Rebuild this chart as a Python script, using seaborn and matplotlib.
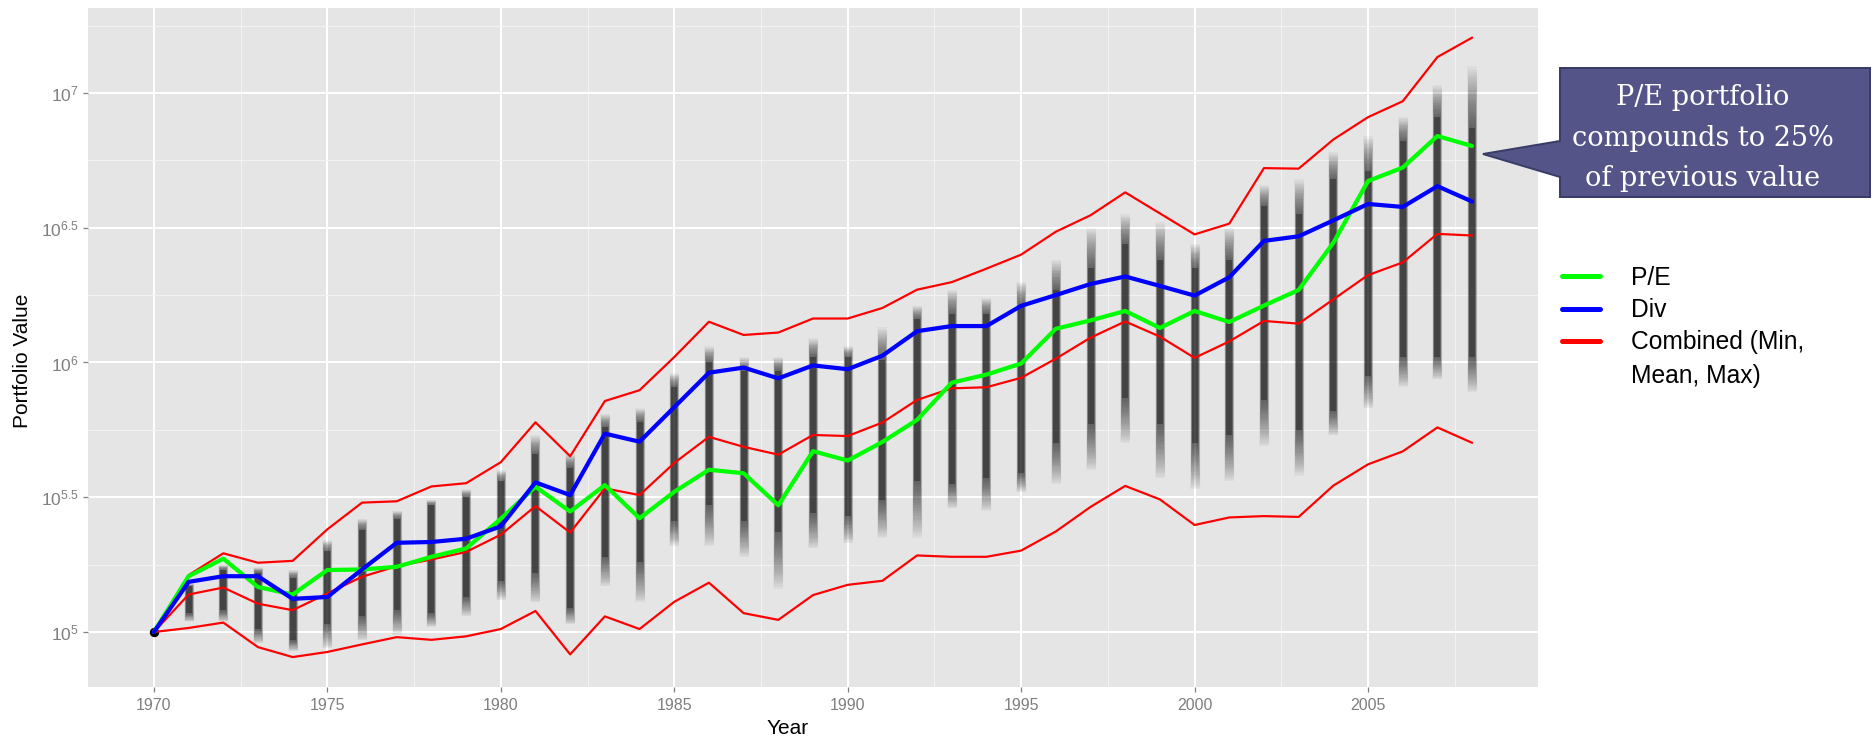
import numpy as np
import pandas as pd
import matplotlib
matplotlib.use("Agg")
import matplotlib.pyplot as plt
import seaborn as sns
from matplotlib.lines import Line2D
from matplotlib.patches import Polygon
from matplotlib.legend_handler import HandlerLine2D
from matplotlib.ticker import FixedLocator, NullFormatter

# ---------------------------------------------------------------------------
# Data (portfolio values as log10 exponents, one value per year)
# ---------------------------------------------------------------------------
years = list(range(1970, 2009))

pe_log10 = [5.000, 5.207, 5.272, 5.167, 5.139, 5.230, 5.232, 5.242, 5.279, 5.310,
            5.420, 5.539, 5.447, 5.545, 5.422, 5.520, 5.602, 5.589, 5.470, 5.671,
            5.636, 5.705, 5.787, 5.925, 5.955, 5.996, 6.125, 6.156, 6.191, 6.128,
            6.191, 6.150, 6.211, 6.269, 6.444, 6.673, 6.723, 6.840, 6.803]

div_log10 = [5.000, 5.186, 5.207, 5.207, 5.123, 5.130, 5.232, 5.331, 5.334, 5.346,
             5.392, 5.555, 5.508, 5.736, 5.706, 5.834, 5.962, 5.981, 5.941, 5.989,
             5.975, 6.025, 6.116, 6.135, 6.135, 6.210, 6.250, 6.291, 6.319, 6.284,
             6.248, 6.316, 6.451, 6.468, 6.527, 6.588, 6.577, 6.654, 6.597]

comb_min_log10 = [5.000, 5.015, 5.035, 4.944, 4.907, 4.926, 4.954, 4.981, 4.971, 4.984,
                  5.011, 5.078, 4.917, 5.058, 5.011, 5.112, 5.183, 5.070, 5.045, 5.137,
                  5.175, 5.190, 5.284, 5.279, 5.279, 5.302, 5.373, 5.464, 5.542, 5.492,
                  5.397, 5.425, 5.430, 5.427, 5.543, 5.622, 5.670, 5.759, 5.702]

comb_mean_log10 = [5.000, 5.139, 5.165, 5.105, 5.081, 5.143, 5.205, 5.244, 5.269, 5.297,
                   5.361, 5.467, 5.369, 5.533, 5.508, 5.627, 5.724, 5.687, 5.658, 5.731,
                   5.727, 5.777, 5.861, 5.904, 5.908, 5.943, 6.014, 6.092, 6.152, 6.096,
                   6.017, 6.078, 6.154, 6.144, 6.234, 6.324, 6.371, 6.477, 6.471]

comb_max_log10 = [5.000, 5.211, 5.292, 5.257, 5.264, 5.381, 5.480, 5.485, 5.540, 5.552,
                  5.630, 5.778, 5.652, 5.857, 5.897, 6.020, 6.151, 6.102, 6.111, 6.163,
                  6.163, 6.202, 6.270, 6.298, 6.348, 6.400, 6.485, 6.546, 6.631, 6.553,
                  6.475, 6.515, 6.721, 6.719, 6.827, 6.910, 6.969, 7.133, 7.205]

# Simulated portfolios: spread of outcomes per year (faint tails and dense core)
sim_years = list(range(1971, 2009))
sim_faint_lo = [5.04, 5.04, 4.96, 4.93, 4.94, 4.97, 4.99, 5.02, 5.06, 5.12,
                5.11, 5.03, 5.17, 5.11, 5.32, 5.32, 5.28, 5.16, 5.31, 5.33,
                5.35, 5.35, 5.46, 5.45, 5.52, 5.55, 5.60, 5.70, 5.57, 5.53,
                5.56, 5.69, 5.58, 5.73, 5.83, 5.91, 5.94, 5.89]
sim_core_lo = [5.07, 5.08, 5.01, 4.97, 5.03, 5.06, 5.08, 5.07, 5.13, 5.19,
               5.22, 5.09, 5.28, 5.26, 5.41, 5.47, 5.41, 5.37, 5.44, 5.43,
               5.49, 5.56, 5.55, 5.57, 5.59, 5.70, 5.77, 5.87, 5.77, 5.70,
               5.73, 5.86, 5.75, 5.82, 5.95, 6.02, 6.02, 6.02]
sim_core_hi = [5.17, 5.23, 5.22, 5.20, 5.30, 5.38, 5.42, 5.47, 5.50, 5.56,
               5.66, 5.61, 5.76, 5.78, 5.91, 6.00, 5.97, 5.97, 6.02, 6.02,
               6.01, 6.16, 6.18, 6.18, 6.21, 6.27, 6.35, 6.44, 6.38, 6.35,
               6.38, 6.58, 6.55, 6.68, 6.71, 6.82, 6.91, 6.87]
sim_faint_hi = [5.18, 5.25, 5.24, 5.23, 5.34, 5.42, 5.45, 5.49, 5.53, 5.60,
                5.73, 5.66, 5.81, 5.83, 5.96, 6.06, 6.02, 6.02, 6.09, 6.06,
                6.13, 6.21, 6.27, 6.24, 6.30, 6.38, 6.50, 6.55, 6.52, 6.44,
                6.50, 6.66, 6.68, 6.78, 6.84, 6.91, 7.03, 7.10]

start_year = 1970
start_log10 = 5.0

x_ticks = [1970, 1975, 1980, 1985, 1990, 1995, 2000, 2005]
x_minor = [1972.5, 1977.5, 1982.5, 1987.5, 1992.5, 1997.5, 2002.5, 2007.5]
y_ticks_log10 = [5.0, 5.5, 6.0, 6.5, 7.0]
y_minor_log10 = [4.75, 5.25, 5.75, 6.25, 6.75, 7.25]
y_tick_labels = [r"$\mathregular{10^{5}}$", r"$\mathregular{10^{5.5}}$",
                 r"$\mathregular{10^{6}}$", r"$\mathregular{10^{6.5}}$",
                 r"$\mathregular{10^{7}}$"]

series_labels = ["P/E", "Div", "Combined (Min,\nMean, Max)"]
callout_text = "P/E portfolio\ncompounds to 25%\nof previous value"

# ---------------------------------------------------------------------------
# Styling
# ---------------------------------------------------------------------------
sns.set_theme(style="darkgrid")
plt.rcParams["font.family"] = ["Liberation Sans", "DejaVu Sans"]
plt.rcParams["mathtext.fontset"] = "custom"
plt.rcParams["mathtext.rm"] = "Liberation Sans"

W, H = 1873, 741
DPI = 100
PX = 72.0 / DPI  # points per pixel

GREEN = "#00FF00"
BLUE = "#0000FF"
RED = "#FF0000"
PANEL = "#E5E5E5"
TICK_GREY = "#7F7F7F"

fig = plt.figure(figsize=(W / DPI, H / DPI), dpi=DPI)
fig.patch.set_facecolor("white")


def fx(x):
    return x / W


def fy(y):
    return 1.0 - y / H


ax = fig.add_axes([fx(88), fy(687), (1538 - 88) / W, (687 - 8) / H])
ax.set_facecolor(PANEL)
ax.set_yscale("log")


def pv(vals):
    return np.power(10.0, np.asarray(vals, dtype=float))


# simulated outcome clouds: soft fade from the faint tails into the dense core
f_lo, f_hi = np.asarray(sim_faint_lo), np.asarray(sim_faint_hi)
c_lo, c_hi = np.asarray(sim_core_lo), np.asarray(sim_core_hi)
n_layers = 22
for t in np.linspace(0.0, 1.0, n_layers):
    lo = f_lo + t * (c_lo - f_lo)
    hi = f_hi + t * (c_hi - f_hi)
    width_px = 9.5 - 3.0 * t
    ax.vlines(sim_years, pv(lo), pv(hi), colors="black", alpha=0.035,
              linewidth=width_px * PX, zorder=2)
ax.vlines(sim_years, pv(c_lo), pv(c_hi), colors="black", alpha=0.30,
          linewidth=6.0 * PX, zorder=2)
ax.plot([start_year], [pv(start_log10)], marker="o", color="black",
        markersize=8 * PX, linestyle="none", zorder=3)

# combined min / mean / max
for vals in (comb_min_log10, comb_mean_log10, comb_max_log10):
    sns.lineplot(x=years, y=pv(vals), ax=ax, color=RED, linewidth=2.2 * PX,
                 legend=False, zorder=4)
sns.lineplot(x=years, y=pv(pe_log10), ax=ax, color=GREEN, linewidth=4.2 * PX,
             legend=False, zorder=5)
sns.lineplot(x=years, y=pv(div_log10), ax=ax, color=BLUE, linewidth=4.2 * PX,
             legend=False, zorder=6)

# axes limits (5% padding like ggplot)
ax.set_xlim(1968.1, 2009.9)
ax.set_ylim(pv(4.796), pv(7.315))

ax.xaxis.set_major_locator(FixedLocator(x_ticks))
ax.xaxis.set_minor_locator(FixedLocator(x_minor))
ax.set_xticklabels([str(t) for t in x_ticks])
ax.yaxis.set_major_locator(FixedLocator(list(pv(y_ticks_log10))))
ax.yaxis.set_minor_locator(FixedLocator(list(pv(y_minor_log10))))
ax.set_yticklabels(y_tick_labels)
ax.yaxis.set_minor_formatter(NullFormatter())

ax.grid(which="major", color="white", linewidth=2.0 * PX, zorder=0)
ax.grid(which="minor", color="#F2F2F2", linewidth=1.0 * PX, zorder=0)
ax.set_axisbelow(True)
for s in ax.spines.values():
    s.set_visible(False)

ax.tick_params(which="major", length=5 * PX, width=1.2 * PX, color=TICK_GREY,
               labelcolor=TICK_GREY, labelsize=11.5, pad=4, bottom=True, left=True)
ax.tick_params(axis="y", which="major", labelsize=12.5, pad=3)
ax.tick_params(which="minor", length=0)

ax.set_xlabel("Year", fontsize=15, color="black")
ax.set_ylabel("Portfolio Value", fontsize=15, color="black")
ax.xaxis.set_label_coords((788 - 88) / 1450, -(729 - 687) / 679)
ax.yaxis.set_label_coords((23 - 88) / 1450, (687 - 361) / 679)
ax.xaxis.label.set_va("center")
ax.yaxis.label.set_va("center")


# ---------------------------------------------------------------------------
# Legend (key of the multi-line entry sits on its first line)
# ---------------------------------------------------------------------------
class FirstLineHandler(HandlerLine2D):
    def __init__(self, shift, **kw):
        super().__init__(**kw)
        self.shift = shift

    def create_artists(self, legend, orig_handle, xdescent, ydescent, width,
                       height, fontsize, trans):
        artists = super().create_artists(legend, orig_handle, xdescent, ydescent,
                                         width, height, fontsize, trans)
        for a in artists:
            if isinstance(a, Line2D):
                a.set_ydata(np.asarray(a.get_ydata(), dtype=float) + self.shift * fontsize)
        return artists


LEG_FS = 17.7
LEG_LINESPACING = 1.5
h_pe = Line2D([], [], color=GREEN, linewidth=5 * PX)
h_div = Line2D([], [], color=BLUE, linewidth=5 * PX)
h_comb = Line2D([], [], color=RED, linewidth=5 * PX)
leg = fig.legend([h_pe, h_div, h_comb], series_labels, loc="upper left",
                 bbox_to_anchor=(fx(1562), fy(266)), frameon=False,
                 fontsize=LEG_FS, handlelength=1.55, handletextpad=1.25,
                 labelspacing=0.33, borderpad=0, borderaxespad=0,
                 handler_map={h_comb: FirstLineHandler(shift=0.5 * LEG_LINESPACING)})
leg.get_texts()[2].set_linespacing(LEG_LINESPACING)
for t in leg.get_texts():
    t.set_color("black")

# ---------------------------------------------------------------------------
# Callout
# ---------------------------------------------------------------------------
shape_px = [(1560, 68), (1870, 68), (1870, 197), (1560, 197), (1560, 177),
            (1483, 154), (1560, 141)]
callout = Polygon([(fx(x), fy(y)) for x, y in shape_px], closed=True,
                  transform=fig.transFigure, facecolor="#545488",
                  edgecolor="#3A3C68", linewidth=2.0 * PX, zorder=10)
fig.patches.append(callout)
fig.text(fx(1703), fy(138), callout_text, ha="center", va="center",
         color="white", fontsize=19.5, family=["DejaVu Serif"],
         linespacing=1.62, zorder=11)

fig.savefig("out.png", dpi=DPI, facecolor="white")
